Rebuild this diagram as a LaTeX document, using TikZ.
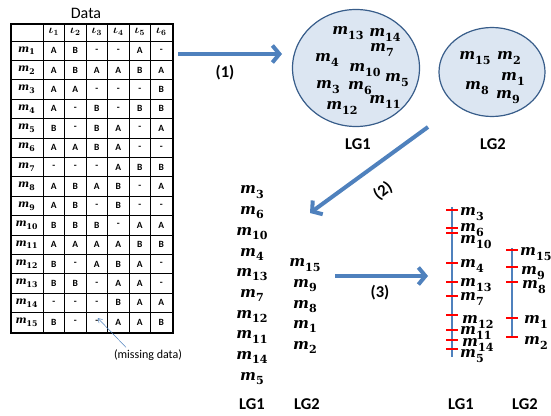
\documentclass[tikz,border=0pt]{standalone}
\usepackage{fontspec}
\usepackage{graphicx}
\setmainfont{Carlito}
\newfontfamily\mfont{DejaVu Serif}
\newcommand{\mm}[1]{\textbf{\textit{m}}\raisebox{-0.28em}{\scalebox{0.74}{\textbf{#1}}}}
\usetikzlibrary{arrows.meta,shapes.geometric}
\definecolor{arrblue}{RGB}{79,129,189}
\definecolor{ellfill}{RGB}{220,230,242}
\definecolor{elldraw}{RGB}{56,93,138}
\begin{document}
\begin{tikzpicture}[x=1pt,y=-1pt,
  bigarrow/.style={draw=arrblue, line width=4pt, -{Straight Barb[length=7pt,width=17pt]}},
  mlab/.style={font=\fontsize{15}{17}\selectfont\mfont, inner sep=0pt},
  mtab/.style={font=\fontsize{10.5}{12}\selectfont\mfont, inner sep=0pt},
  hdr/.style={font=\fontsize{11.5}{12}\selectfont\boldmath, inner sep=0pt},
  cell/.style={font=\fontsize{9.5}{10}\selectfont\bfseries, inner sep=0pt},
  lg/.style={font=\fontsize{16.5}{19}\selectfont\bfseries, inner sep=0pt},
  group/.style={ellipse, draw=elldraw, fill=ellfill, line width=1.2pt, inner sep=0pt},
  tickmark/.style={draw=red, line width=1.6pt},
  chrom/.style={draw=arrblue, line width=2.6pt},
]
\useasboundingbox (0,0) rectangle (551,415);

% ---------- table ----------
\node[font=\fontsize{16}{18}\selectfont] (data) at (86,13) {Data};
\foreach \i in {1,...,6}{
  \node[hdr] (h\i) at ({43+21.5*\i-10.75},32) {$\iota_{\i}$};
}
\foreach \r/\vals [count=\k] in {
  1/{A,B,-,-,A,-},
  2/{A,B,A,A,B,A},
  3/{A,A,-,-,-,B},
  4/{A,-,B,-,B,B},
  5/{B,-,B,A,-,A},
  6/{A,A,B,A,-,-},
  7/{-,-,-,A,B,B},
  8/{A,B,A,B,-,A},
  9/{A,B,-,B,-,-},
  10/{B,B,B,-,A,A},
  11/{A,A,A,A,B,B},
  12/{B,-,A,B,A,-},
  13/{B,B,-,A,A,-},
  14/{-,-,-,B,A,A},
  15/{B,-,-,A,A,B}}{
  \node[mtab] (r\r) at (26.5,{41+19.4*\k-9.7}) {\mm{\r}};
  \foreach \v [count=\c] in \vals {
    \node[cell] (c-\r-\c) at ({43+21.5*\c-10.75},{41+19.4*\k-9.7}) {\v};
  }
}
\foreach \k in {0,...,14}{
  \draw[line width=0.7pt] (10,{41+19.4*\k}) -- (172,{41+19.4*\k});
}
\foreach \c in {0,...,5}{
  \draw[line width=0.7pt] ({43+21.5*\c},23) -- ({43+21.5*\c},332);
}
\node[draw, line width=2pt, minimum width=162pt, minimum height=309pt, inner sep=0pt, anchor=north west] (tab) at (10,23) {};

\node[font=\fontsize{12}{14}\selectfont, inner sep=1pt] (md) at (148,355) {(missing data)};
\draw[arrblue, line width=0.5pt, -{Straight Barb[length=4pt,width=5pt]}] ([xshift=-22pt,yshift=1pt]md.north) -- ([xshift=1pt,yshift=6pt]c-15-3.south);

% ---------- arrow (1) ----------
\coordinate (a1s) at (178,54);
\coordinate (a1e) at (282,54);
\draw[bigarrow] (a1s) -- (a1e);
\node[lg] (l1) at (225,73) {(1)};

% ---------- groups ----------
\node[group, minimum width=127pt, minimum height=117pt] (g1) at (356,68) {};
\node[group, minimum width=106pt, minimum height=89pt] (g2) at (492,72) {};
\foreach \n/\x/\y in {13/348/33, 14/385/35, 4/327/60, 7/382/50, 10/365/70, 5/397/80, 3/328/87, 6/360/88, 11/385/102, 12/342/108}{
  \node[mlab] (e\n) at (\x,\y) {\mm{\n}};
}
\foreach \n/\x/\y in {15/475/58, 2/509/58, 1/513/79, 8/477/88, 9/508/97}{
  \node[mlab] (e\n) at (\x,\y) {\mm{\n}};
}
\node[lg] (t1) at (358,144) {LG1};
\node[lg] (t2) at (493,144) {LG2};

% ---------- arrow (2) ----------
\coordinate (a2s) at (428,127);
\coordinate (a2e) at (310,213);
\draw[bigarrow] (a2s) -- (a2e);
\node[lg, rotate=37] (l2) at (383,191) {(2)};

% ---------- ordered lists ----------
\foreach \n [count=\k from 0] in {3,6,10,4,13,7,12,11,14,5}{
  \node[mlab] (o\n) at (252,{192+20.7*\k}) {\mm{\n}};
}
\foreach \n [count=\k from 0] in {15,9,8,1,2}{
  \node[mlab] (o\n) at (305,{265+20.6*\k}) {\mm{\n}};
}
\node[lg] (b1) at (252,404) {LG1};
\node[lg] (b2) at (307,404) {LG2};

% ---------- arrow (3) ----------
\coordinate (a3s) at (335,276);
\coordinate (a3e) at (428,276);
\draw[bigarrow] (a3s) -- (a3e);
\node[lg] (l3) at (380,293) {(3)};

% ---------- linkage maps ----------
\coordinate (c1t) at (452,207);
\coordinate (c1b) at (452,357);
\draw[chrom] (c1t) -- (c1b);
\foreach \y in {210,228,233,263,282,296,315,330,340,349}{
  \draw[tickmark] (446,\y) -- (458,\y);
}
\foreach \n/\x/\y in {3/460/214, 6/460/230, 10/460/242, 4/460/266, 13/460/285, 7/460/299, 12/462/322, 11/460/333, 14/462/345, 5/460/356}{
  \node[mlab, anchor=west] (p\n) at (\x,\y) {\mm{\n}};
}
\coordinate (c2t) at (512,248);
\coordinate (c2b) at (512,338);
\draw[chrom] (c2t) -- (c2b);
\foreach \y in {250,267,282,318,337}{
  \draw[tickmark] (506,\y) -- (518,\y);
}
\foreach \n/\x/\y in {15/520/254, 9/521/273, 8/522/287, 1/524/322, 2/524/343}{
  \node[mlab, anchor=west] (p\n) at (\x,\y) {\mm{\n}};
}
\node[lg] (b3) at (461,404) {LG1};
\node[lg] (b4) at (525,404) {LG2};
\end{tikzpicture}
\end{document}
